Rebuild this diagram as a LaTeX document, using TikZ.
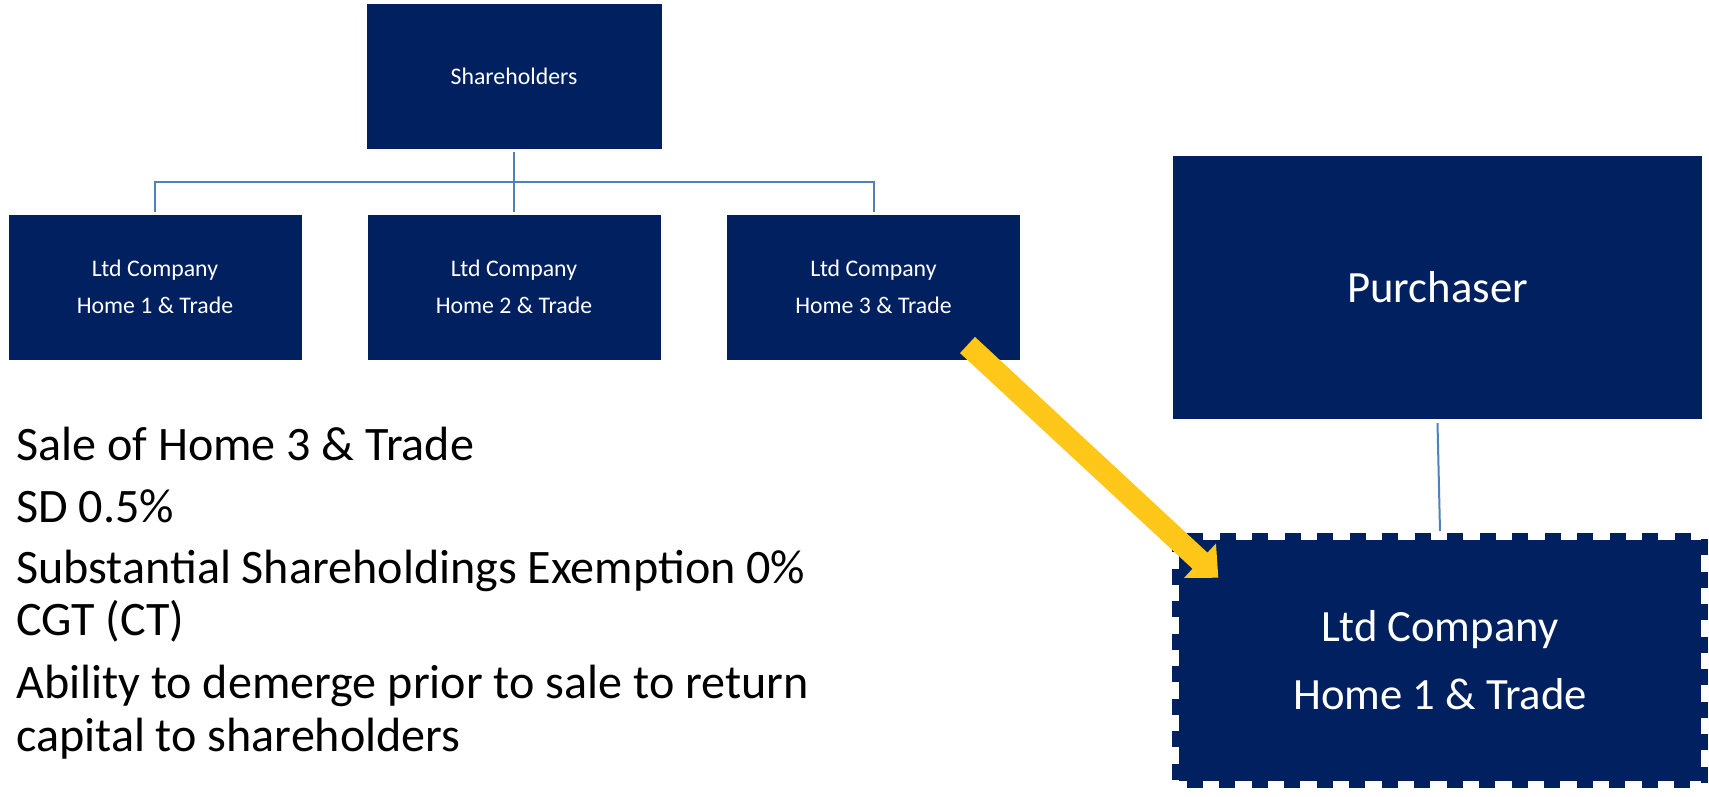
\documentclass[tikz,border=0pt]{standalone}
\usepackage{fontspec}
\setmainfont{Carlito}
\usetikzlibrary{calc}
\definecolor{navy}{RGB}{0,32,96}
\definecolor{linkblue}{RGB}{79,129,189}
\definecolor{gold}{RGB}{255,192,0}
\definecolor{goldlight}{RGB}{255,206,50}
\tikzset{
  smallbox/.style={draw=none, fill=navy, text=white, align=center,
    minimum width=293pt, minimum height=145pt, inner sep=0pt,
    font=\fontsize{23.8}{37}\selectfont},
  bigbox/.style={draw=none, fill=navy, text=white, align=center, inner sep=0pt,
    font=\fontsize{44.7}{68}\selectfont},
  conn/.style={draw=linkblue, line width=2pt},
  note/.style={anchor=base west, inner sep=0pt, text=black,
    font=\fontsize{48.1}{52}\selectfont},
}
\begin{document}
\begin{tikzpicture}[x=1pt,y=-1pt]
\useasboundingbox (0,0) rectangle (1709,796);

% ownership tree
\node[smallbox, minimum width=295pt] (sh) at (514,76.5) {Shareholders};
\node[smallbox] (c1) at (155,287) {Ltd Company\\Home 1 \& Trade};
\node[smallbox] (c2) at (514,287) {Ltd Company\\Home 2 \& Trade};
\node[smallbox] (c3) at (873.5,287) {Ltd Company\\Home 3 \& Trade};

\coordinate (bar) at (514,182);
\draw[conn] ([yshift=-3pt]sh.south) -- ([yshift=2pt]c2.north);
\draw[conn] ([yshift=2pt]c1.north) |- (bar) -| ([yshift=2pt]c3.north);

% purchaser side
\node[bigbox, minimum width=529pt, minimum height=263pt] (pu) at (1437.5,287.5) {Purchaser};
\node[bigbox, minimum width=522pt, minimum height=241pt] (buy) at (1440,660.5)
  {Ltd Company\\Home 1 \& Trade};
\draw[navy, line width=7pt, dash pattern=on 16pt off 16.5pt]
  ($(buy.north west)+(-3.5,-3.5)$) rectangle ($(buy.south east)+(3.5,3.5)$);
\draw[conn] ([yshift=-4pt]pu.south) -- ([yshift=9pt]buy.north);

% block arrow from the sold company to the purchaser's holding
\coordinate (aT) at (967.5,345);
\coordinate (aP) at (1218.3,577.7);
\coordinate (aB) at ($(aP)!25pt!(aT)$);
\shade[left color=gold, right color=goldlight, shading angle=-43]
  ($(aT)!11pt!90:(aP)$) -- ($(aB)!11pt!-90:(aT)$) -- ($(aB)!23.5pt!-90:(aT)$)
  -- (aP) -- ($(aB)!23.5pt!90:(aT)$) -- ($(aB)!11pt!90:(aT)$)
  -- ($(aT)!11pt!-90:(aP)$) -- cycle;

% notes
\node[note] (n1) at (16,460) {Sale of Home 3 \& Trade};
\node[note] (n2) at (16,522) {SD 0.5\%};
\node[note] (n3) at (16,583) {Substantial Shareholdings Exemption 0\%};
\node[note] (n4) at (16,635) {CGT (CT)};
\node[note] (n5) at (16,698) {Ability to demerge prior to sale to return};
\node[note] (n6) at (16,751) {capital to shareholders};
\end{tikzpicture}
\end{document}
